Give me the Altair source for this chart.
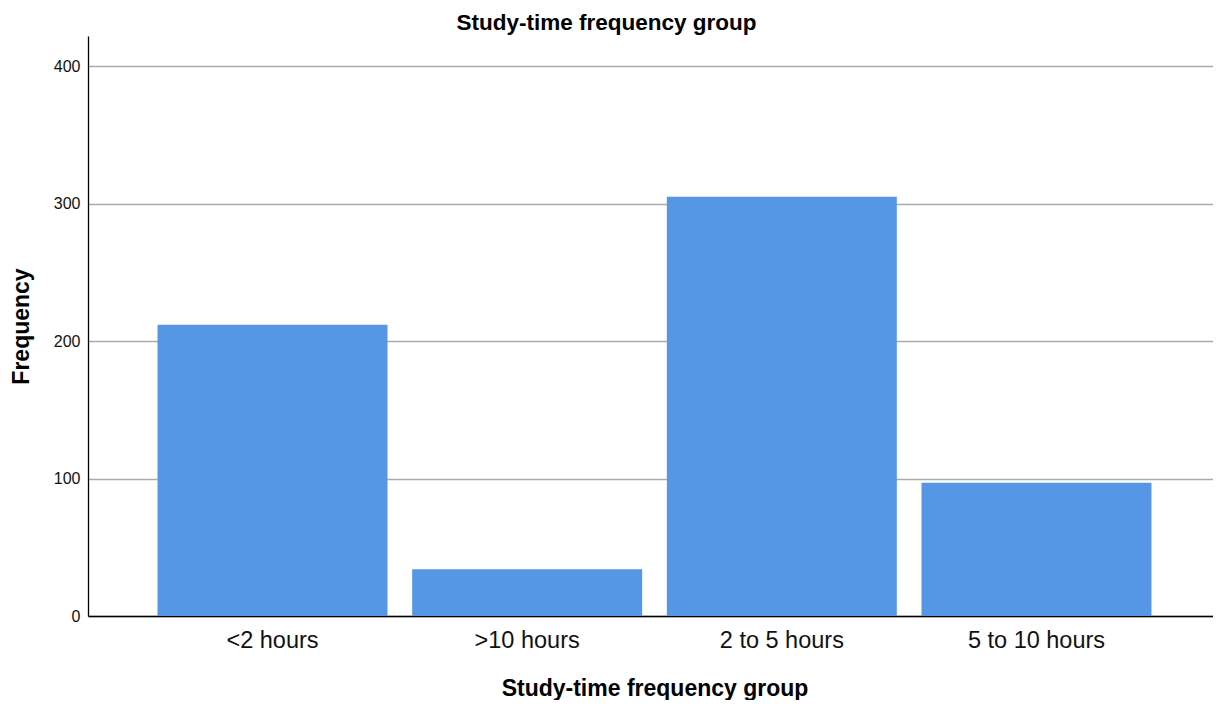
import altair as alt
import pandas as pd

categories = ["<2 hours", ">10 hours", "2 to 5 hours", "5 to 10 hours"]
frequencies = [212, 34, 305, 97]
y_ticks = [0, 100, 200, 300, 400]

df = pd.DataFrame({"group": categories, "freq": frequencies})

FONT = "Liberation Sans"

chart = alt.Chart(df).mark_bar(color="#5596e5").encode(
    x=alt.X("group:N", sort=categories,
            scale=alt.Scale(paddingInner=0.097, paddingOuter=0.273),
            axis=alt.Axis(title="Study-time frequency group", labelAngle=0,
                          labelFontSize=23.5, labelColor="#111111", labelFont=FONT,
                          titleFontSize=23, titleFont=FONT, titleFontWeight="bold",
                          titleColor="#000000", titlePadding=26, labelPadding=12,
                          ticks=False, domainColor="#000000", domainWidth=1.3,
                          grid=False)),
    y=alt.Y("freq:Q", scale=alt.Scale(domain=[0, 422], nice=False),
            axis=alt.Axis(title="Frequency", values=y_ticks, ticks=False,
                          labelFontSize=16, labelFont=FONT, labelColor="#111111",
                          labelPadding=8, titleFontSize=23, titleFont=FONT,
                          titleFontWeight="bold", titleColor="#000000",
                          titlePadding=20, domainColor="#000000", domainWidth=1.3,
                          gridColor="#aaaaaa", gridWidth=1.5)),
).properties(
    width=1133, height=580,
    title=alt.TitleParams("Study-time frequency group", fontSize=22.5, font=FONT,
                          fontWeight="bold", anchor="middle", frame="group",
                          dx=-48, offset=2, color="#000000"),
    autosize=alt.AutoSizeParams(type="none"),
    padding={"left": 80, "top": 28, "right": -8, "bottom": 84},
).configure_view(stroke=None)

chart.save("out.html", embed_options={"renderer": "svg", "actions": False})
